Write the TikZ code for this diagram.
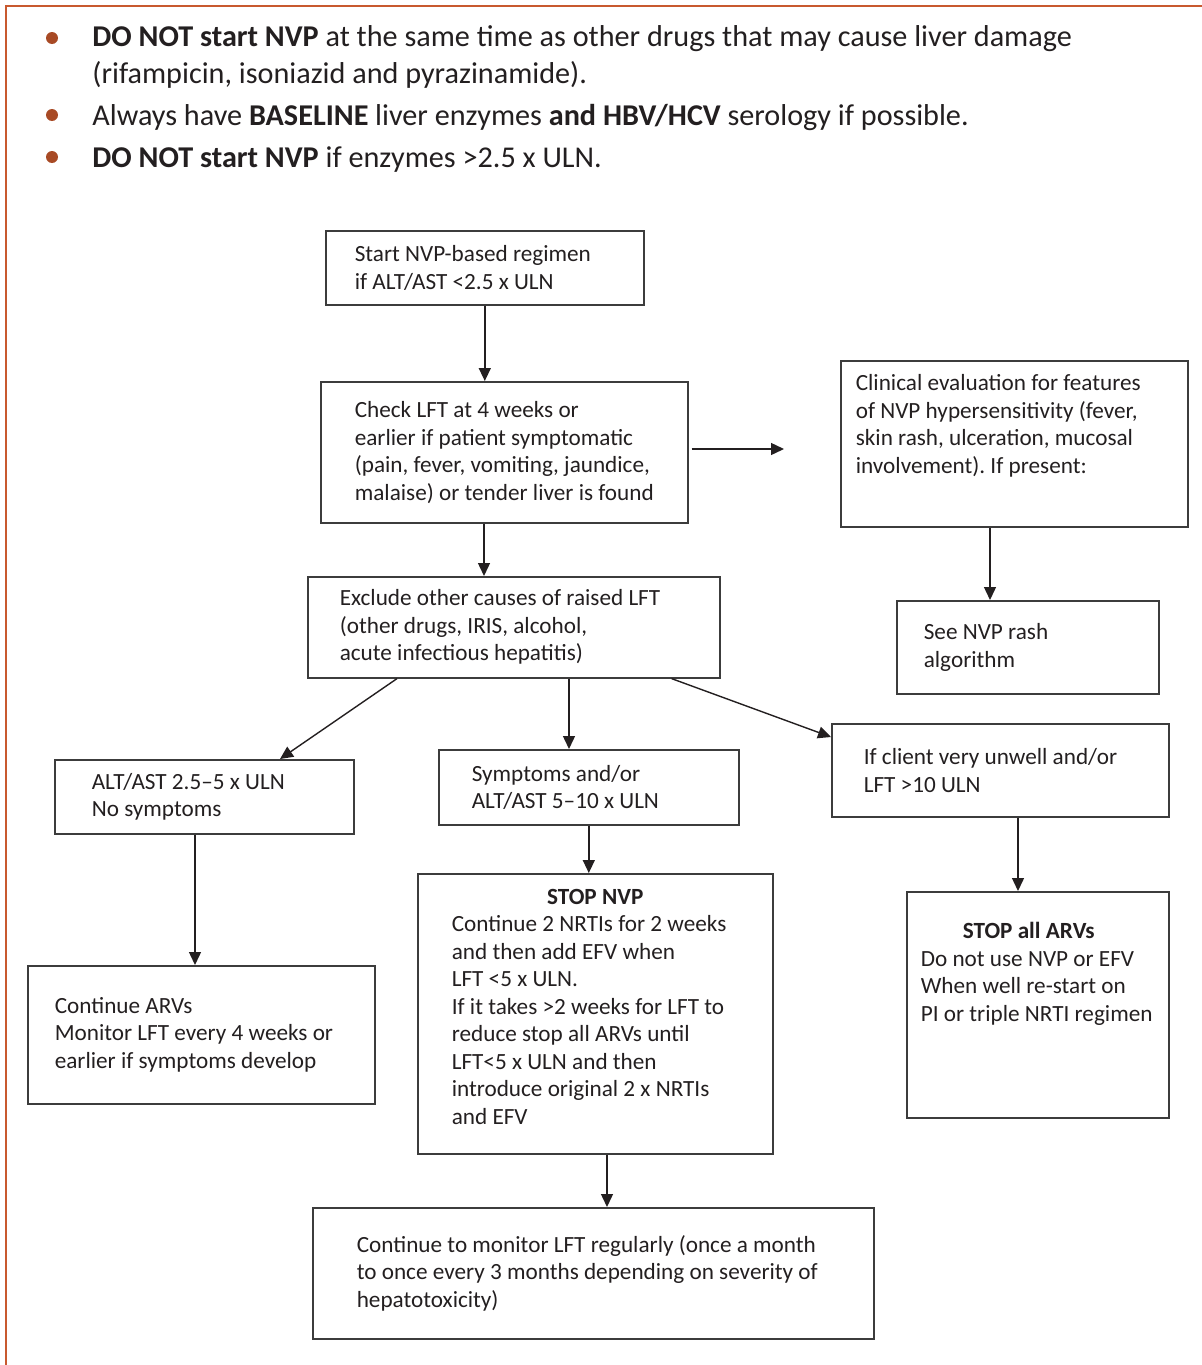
\documentclass[tikz,border=0pt]{standalone}
\usepackage{fontspec}
\setmainfont{Carlito}
\usetikzlibrary{positioning,calc,arrows.meta}
\definecolor{framec}{HTML}{C8592F}
\definecolor{dotc}{HTML}{A84A25}
\definecolor{inkc}{HTML}{231F20}
\definecolor{linec}{HTML}{3C3C3C}
\newcommand{\boxfont}{\fontsize{11.6}{13.75}\selectfont\hyphenpenalty=10000 \frenchspacing}
\newcommand{\topfont}{\fontsize{15.1}{18.5}\selectfont\frenchspacing}
\tikzset{
  box/.style={draw=linec,line width=.8pt,anchor=north west,align=left,inner ysep=0pt,font=\boxfont,
    execute at begin node={\spaceskip=0pt\xspaceskip=0pt}},
  arr/.style={draw=inkc,line width=.7pt,-{Triangle[length=6.5pt,width=6pt]}},
  bullettext/.style={anchor=west,align=left,inner sep=0pt,font=\topfont},
}

\begin{document}
\begin{tikzpicture}[x=0.5pt,y=-0.5pt,text=inkc]
\useasboundingbox (0,0) rectangle (1202,1365);
% frame and bullets
\draw[framec,line width=.6pt] (6,1365) -- (6,6) -- (1202,6);
\fill[dotc] (52,38) circle (6) (52,115) circle (6) (52,157) circle (6);
\node[bullettext] (b1) at (92,57) {\textbf{DO NOT start NVP} at the same time as other drugs that may cause liver damage\\(rifampicin, isoniazid and pyrazinamide).};
\node[bullettext] (b2) at (92,117) {Always have \textbf{BASELINE} liver enzymes \textbf{and HBV/HCV} serology if possible.};
\node[bullettext] (b3) at (92,160) {\textbf{DO NOT start NVP} if enzymes >2.5 x ULN.};

% flow chart boxes
\node[box,minimum width=159pt,minimum height=37pt,text width=130pt,inner xsep=14.5pt] (start) at (325,230) {Start NVP-based regimen\\if ALT/AST <2.5 x ULN};
\node[box,minimum width=183.5pt,minimum height=70.5pt,text width=149.5pt,inner xsep=17pt] (check) at (320,381) {Check LFT at 4 weeks or\\earlier if patient symptomatic\\(pain, fever, vomiting, jaundice,\\malaise) or tender liver is found};
\node[box,minimum width=173.5pt,minimum height=83pt,text width=158.5pt,inner xsep=7.5pt] (clin) at (840,360) {Clinical evaluation for features\\of NVP hypersensitivity (fever,\\skin rash, ulceration, mucosal\\involvement). If present:\\[6pt]\mbox{}};
\node[box,minimum width=131pt,minimum height=46.5pt,text width=104pt,inner xsep=13.5pt] (rash) at (896,600) {See NVP rash\\algorithm};
\node[box,minimum width=206pt,minimum height=50.5pt,text width=174pt,inner xsep=16pt] (excl) at (307,576) {Exclude other causes of raised LFT\\(other drugs, IRIS, alcohol,\\acute infectious hepatitis)};
\node[box,minimum width=149.5pt,minimum height=37pt,text width=112.5pt,inner xsep=18.5pt] (mild) at (54,759) {ALT/AST 2.5--5 x ULN\\No symptoms};
\node[box,minimum width=150pt,minimum height=37.5pt,text width=117pt,inner xsep=16.5pt] (symp) at (438,749) {Symptoms and/or\\ALT/AST 5--10 x ULN};
\node[box,minimum width=168.5pt,minimum height=46.5pt,text width=136.5pt,inner xsep=16pt] (unwell) at (831,723) {If client very unwell and/or\\LFT >10 ULN};
\node[box,minimum width=173.5pt,minimum height=69pt,text width=146.5pt,inner xsep=13.5pt] (cont) at (27,965) {Continue ARVs\\Monitor LFT every 4 weeks or\\earlier if symptoms develop};
\node[box,minimum width=177.5pt,minimum height=140pt,text width=143.5pt,inner xsep=17pt] (stop) at (417,873) {\makebox[143.5pt]{\bfseries STOP NVP}\\Continue 2 NRTIs for 2 weeks\\and then add EFV when\\LFT <5 x ULN.\\If it takes >2 weeks for LFT to\\reduce stop all ARVs until\\LFT<5 x ULN and then\\introduce original 2 x NRTIs\\and EFV\\[-6.75pt]\mbox{}};
\node[box,minimum width=131pt,minimum height=113pt,text width=117pt,inner xsep=7pt] (stopall) at (906,891) {\makebox[108pt]{\bfseries STOP all ARVs}\\Do not use NVP or EFV\\When well re-start on\\PI or triple NRTI regimen\\[19pt]\mbox{}};
\node[box,minimum width=280.5pt,minimum height=65.5pt,text width=236.5pt,inner xsep=22pt] (mon) at (312,1207) {Continue to monitor LFT regularly (once a month\\to once every 3 months depending on severity of\\hepatotoxicity)};

% arrows
\coordinate (clinfree) at (784,449);
\draw[arr] (start.south) -- (start.south |- check.north);
\draw[arr,shorten <=1.5pt] (check.east |- clinfree) -- (clinfree);
\draw[arr] ($(check.south west)+(164,0)$) -- ($(excl.north west)+(177,0)$);
\draw[arr] ($(clin.south west)+(150,0)$) -- ($(rash.north west)+(94,0)$);
\draw[arr] ($(excl.south west)+(90,0)$) -- ($(mild.north west)+(226,0)$);
\draw[arr] ($(excl.south west)+(262,0)$) -- ($(symp.north west)+(131,0)$);
\draw[arr] ($(excl.south east)+(-49,0)$) -- ($(unwell.north west)+(0,14)$);
\draw[arr] ($(mild.south west)+(141,0)$) -- ($(cont.north west)+(168,0)$);
\draw[arr] (symp.south) -- (symp.south |- stop.north);
\draw[arr] ($(unwell.south west)+(187,0)$) -- ($(stopall.north west)+(112,0)$);
\draw[arr] ($(stop.south west)+(190,0)$) -- ($(mon.north west)+(295,0)$);
\end{tikzpicture}
\end{document}
